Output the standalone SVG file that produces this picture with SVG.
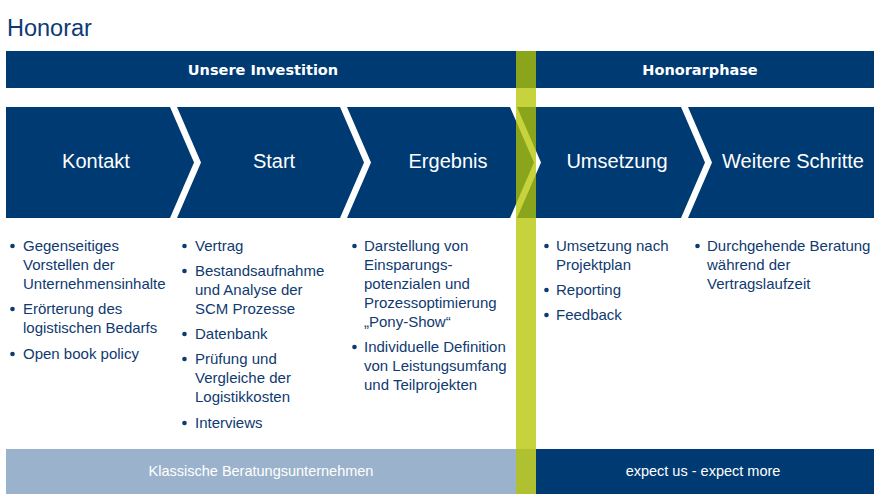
<svg xmlns="http://www.w3.org/2000/svg" width="880" height="500" viewBox="0 0 880 500">
<style>
.navy{fill:#003a72}
.hdr{font-family:"DejaVu Sans",sans-serif;font-weight:bold;font-size:14.5px;fill:#fff;text-anchor:middle}
.lbl{font-family:"Liberation Sans",Arial,sans-serif;font-size:20px;fill:#fff;text-anchor:middle}
.txt{font-family:"Liberation Sans",Arial,sans-serif;font-size:15px;fill:#0f3a70}
.dot{fill:#0f3a70}
.bot{font-family:"Liberation Sans",Arial,sans-serif;font-size:14.5px;fill:#fff;text-anchor:middle}
</style>
<rect width="880" height="500" fill="#fff"/>
<text x="7" y="36" font-family="Liberation Sans, Arial, sans-serif" font-size="23.5" fill="#0d3a74">Honorar</text>

<g id="header-investition">
<rect class="navy" x="6" y="51" width="510" height="37"/>
<text class="hdr" x="263" y="75">Unsere Investition</text>
</g>
<g id="header-honorarphase">
<rect class="navy" x="516" y="51" width="358" height="37"/>
<text class="hdr" x="700" y="75">Honorarphase</text>
</g>

<g id="kontakt">
<path class="navy" d="M6,107 H170 L194,162.5 L170,218 H6 Z"/>
<text class="lbl" x="96" y="168">Kontakt</text>
<g class="dot">
<circle cx="12.5" cy="246" r="2.3"/>
<circle cx="12.5" cy="309" r="2.3"/>
<circle cx="12.5" cy="354" r="2.3"/>
</g>
<g class="txt">
<text x="23" y="251">Gegenseitiges</text>
<text x="23" y="270">Vorstellen der</text>
<text x="23" y="289">Unternehmensinhalte</text>
<text x="23" y="314">Erörterung des</text>
<text x="23" y="333">logistischen Bedarfs</text>
<text x="23" y="359">Open book policy</text>
</g>
</g>

<g id="start">
<path class="navy" d="M177,107 H340 L364,162.5 L340,218 H177 L201,162.5 Z"/>
<text class="lbl" x="274" y="168">Start</text>
<g class="dot">
<circle cx="184.5" cy="246" r="2.3"/>
<circle cx="184.5" cy="271" r="2.3"/>
<circle cx="184.5" cy="334" r="2.3"/>
<circle cx="184.5" cy="359" r="2.3"/>
<circle cx="184.5" cy="423" r="2.3"/>
</g>
<g class="txt">
<text x="195" y="251">Vertrag</text>
<text x="195" y="276">Bestandsaufnahme</text>
<text x="195" y="295">und Analyse der</text>
<text x="195" y="314">SCM Prozesse</text>
<text x="195" y="339">Datenbank</text>
<text x="195" y="364">Prüfung und</text>
<text x="195" y="383">Vergleiche der</text>
<text x="195" y="402">Logistikkosten</text>
<text x="195" y="428">Interviews</text>
</g>
</g>

<g id="ergebnis">
<path class="navy" d="M347,107 H510 L534,162.5 L510,218 H347 L371,162.5 Z"/>
<text class="lbl" x="448" y="168">Ergebnis</text>
<g class="dot">
<circle cx="354.5" cy="246" r="2.3"/>
<circle cx="354.5" cy="347" r="2.3"/>
</g>
<g class="txt">
<text x="364" y="251">Darstellung von</text>
<text x="364" y="270">Einsparungs-</text>
<text x="364" y="289">potenzialen und</text>
<text x="364" y="308">Prozessoptimierung</text>
<text x="364" y="327">„Pony-Show“</text>
<text x="364" y="352">Individuelle Definition</text>
<text x="364" y="371">von Leistungsumfang</text>
<text x="364" y="390">und Teilprojekten</text>
</g>
</g>

<g id="umsetzung">
<path class="navy" d="M517,107 H681 L705,162.5 L681,218 H517 L541,162.5 Z"/>
<text class="lbl" x="617" y="168">Umsetzung</text>
<g class="dot">
<circle cx="546.5" cy="246" r="2.3"/>
<circle cx="546.5" cy="290" r="2.3"/>
<circle cx="546.5" cy="315" r="2.3"/>
</g>
<g class="txt">
<text x="556" y="251">Umsetzung nach</text>
<text x="556" y="270">Projektplan</text>
<text x="556" y="295">Reporting</text>
<text x="556" y="320">Feedback</text>
</g>
</g>

<g id="weitere-schritte">
<path class="navy" d="M688,107 H874 V218 H688 L712,162.5 Z"/>
<text class="lbl" x="793" y="168">Weitere Schritte</text>
<g class="dot">
<circle cx="697.5" cy="246" r="2.3"/>
</g>
<g class="txt">
<text x="707" y="251">Durchgehende Beratung</text>
<text x="707" y="270">während der</text>
<text x="707" y="289">Vertragslaufzeit</text>
</g>
</g>

<g id="footer-klassisch">
<rect x="6" y="449" width="530" height="45" fill="#9bb2cc"/>
<text class="bot" x="261" y="476">Klassische Beratungsunternehmen</text>
</g>
<g id="footer-expect">
<rect class="navy" x="536" y="449" width="338" height="45"/>
<text class="bot" x="703" y="476">expect us - expect more</text>
</g>

<g id="divider">
<rect x="516" y="51" width="20" height="443" fill="rgb(182,197,0)" fill-opacity="0.76"/>
</g>
<g id="connectors"/>
</svg>
